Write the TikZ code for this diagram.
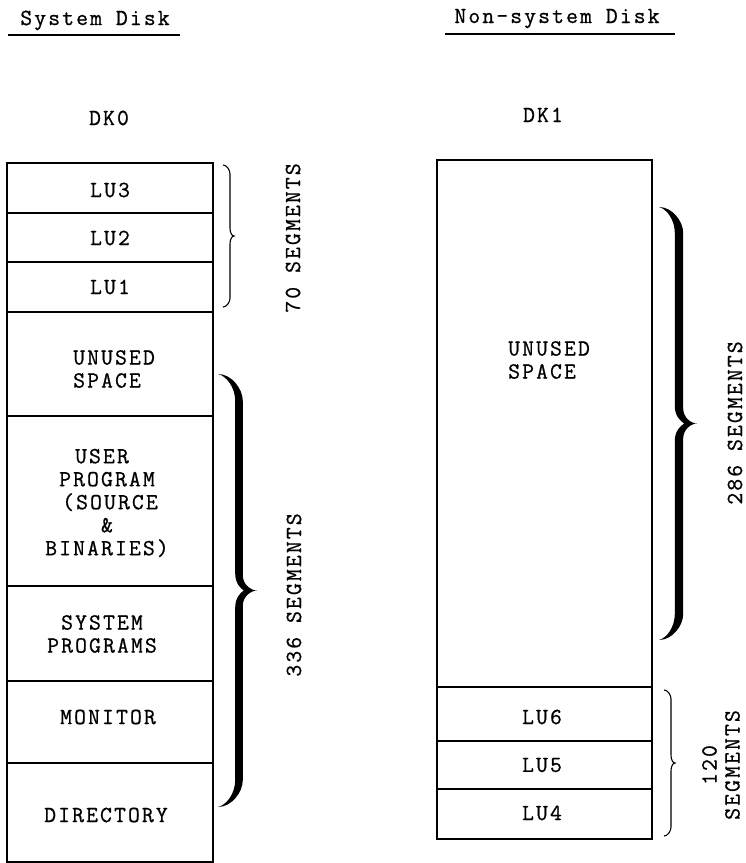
\documentclass[tikz,border=0pt]{standalone}
\usepackage{fontspec}
\newfontfamily\tw{Latin Modern Mono}[LetterSpace=9.2,FakeBold=0.8]
\newcommand{\bigbrace}[7]{%
 \pgfmathsetmacro\bym{(#4+#5)/2}%
 \pgfmathsetmacro\bxo{#2+#6}%
 \pgfmathsetmacro\bxi{#2-#6}%
 \fill (#1,#4) .. controls ({#1+0.55*(\bxo-#1)},#4) and (\bxo,{#4+0.55*#7}) .. (\bxo,{#4+#7})
 -- (\bxo,{\bym-15}) .. controls (\bxo,{\bym-6}) and ({#3-6},\bym) .. (#3,\bym)
 .. controls ({#3-6},\bym) and (\bxo,{\bym+6}) .. (\bxo,{\bym+15})
 -- (\bxo,{#5-#7}) .. controls (\bxo,{#5-0.55*#7}) and ({#1+0.55*(\bxo-#1)},#5) .. (#1,#5)
 .. controls ({#1+0.5*(\bxi-#1)},{#5-2}) and (\bxi,{#5-0.5*#7}) .. (\bxi,{#5-#7})
 -- (\bxi,{\bym+17}) .. controls (\bxi,{\bym+7}) and ({\bxo-2},{\bym+2}) .. ({\bxo+1},\bym)
 .. controls ({\bxo-2},{\bym-2}) and (\bxi,{\bym-7}) .. (\bxi,{\bym-17})
 -- (\bxi,{#4+#7}) .. controls (\bxi,{#4+0.5*#7}) and ({#1+0.5*(\bxi-#1)},{#4+2}) .. (#1,#4) -- cycle;}
\newcommand{\thinbrace}[6]{%
 \pgfmathsetmacro\tym{(#4+#5)/2}%
 \draw[line width=1.1pt] (#1,#4) .. controls ({#1+0.55*(#2-#1)},#4) and (#2,{#4+0.55*#6}) .. (#2,{#4+#6})
 -- (#2,{\tym-8}) .. controls (#2,{\tym-3}) and ({#3-2},\tym) .. (#3,\tym)
 .. controls ({#3-2},\tym) and (#2,{\tym+3}) .. (#2,{\tym+8})
 -- (#2,{#5-#6}) .. controls (#2,{#5-0.55*#6}) and ({#1+0.55*(#2-#1)},#5) .. (#1,#5);}
\begin{document}
\begin{tikzpicture}[x=1pt,y=-1pt,
  txt/.style={font=\tw\fontsize{23}{23}\selectfont, inner sep=0pt},
  boxline/.style={line width=1.3pt}]
\useasboundingbox (0,0) rectangle (746,863);
% titles
\node[txt, anchor=base] (t1) at (95,25) {System Disk};
\node[txt, anchor=base] (t2) at (557,23) {Non-system Disk};
\draw[line width=1.2pt] (8,35) -- (180,35);
\draw[line width=1.2pt] (445,34) -- (675,34);
\node[txt, anchor=base] (dk0) at (109,125) {DK0};
\node[txt, anchor=base] (dk1) at (543,122) {DK1};
% left disk
\draw[boxline] (7,163) rectangle (213,862);
\foreach \yy in {213,262,312,416,586,681,763} \draw[boxline] (7,\yy) -- (213,\yy);
\node[txt] (lu3) at (110,190) {LU3};
\node[txt] (lu2) at (110,238) {LU2};
\node[txt] (lu1) at (110,287) {LU1};
\node[txt, align=left, anchor=west] (unused1) at (73,369) {UNUSED\\SPACE};
\node[txt, align=center] (user) at (107,503) {USER\hspace*{10pt}\\PROGRAM\\\hspace*{6pt}(SOURCE\\\&\hspace*{24pt}\\BINARIES)};
\node[txt, align=center] (sysprog) at (102,634) {SYSTEM\\PROGRAMS};
\node[txt] (monitor) at (108,717) {MONITOR};
\node[txt] (directory) at (106,815) {DIRECTORY};
% right disk
\draw[boxline] (437,160) rectangle (652,839);
\foreach \yy in {687,741,789} \draw[boxline] (437,\yy) -- (652,\yy);
\node[txt, align=left, anchor=west] (unused2) at (508,360) {UNUSED\\SPACE};
\node[txt] (lu6) at (542,717) {LU6};
\node[txt] (lu5) at (542,765) {LU5};
\node[txt] (lu4) at (542,813) {LU4};
% braces
\thinbrace{223}{230}{234}{165}{307}{9}
\bigbrace{218}{239}{257}{374}{807}{3.8}{27}
\bigbrace{659}{679}{697}{207}{640}{4.2}{26}
\thinbrace{664}{671}{675}{690}{836}{9}
% brace labels
\node[txt, rotate=90] (s70) at (293,238) {70 SEGMENTS};
\node[txt, rotate=90] (s336) at (294,595) {336 SEGMENTS};
\node[txt, rotate=90] (s286) at (735,423) {286 SEGMENTS};
\node[txt, rotate=90, align=center] (s120) at (721,765) {120\\SEGMENTS};
\end{tikzpicture}
\end{document}
